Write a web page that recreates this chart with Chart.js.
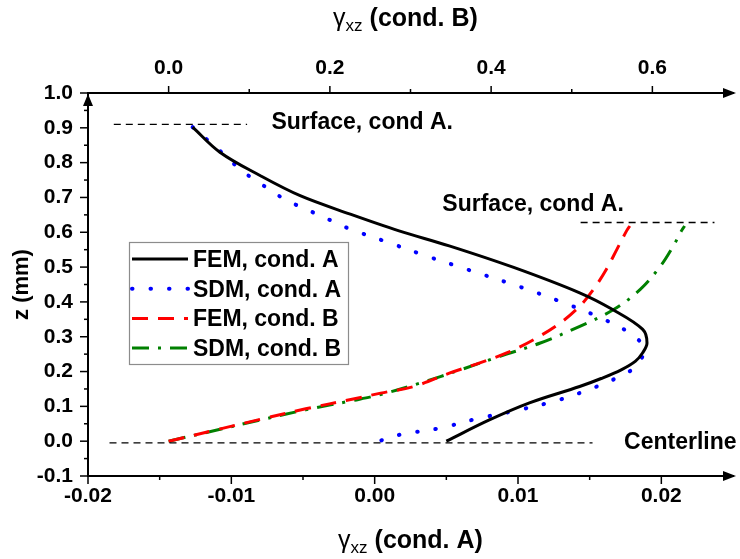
<!DOCTYPE html>
<html>
<head>
<meta charset="utf-8">
<script src="https://cdn.jsdelivr.net/npm/chart.js@4.4.0/dist/chart.umd.min.js"></script>
<style>
    html, body { margin: 0; padding: 0; background: #fff; }
    #wrap { width: 740px; height: 559px; }
</style>
</head>
<body>
<div id="wrap"><canvas id="chart"></canvas></div>
<script>
const FONT = '"Liberation Sans", Arial, sans-serif';

// cond. A (bottom axis)
const femAx = [-0.0127, -0.0108, -0.0080, -0.0052, -0.0017, 0.0017, 0.0052, 0.0097, 0.0143, 0.0166, 0.0187, 0.0190, 0.0187, 0.0182, 0.0172, 0.0158, 0.0143, 0.0108, 0.0080, 0.0050];
const femAz = [0.902, 0.830, 0.763, 0.705, 0.652, 0.604, 0.561, 0.499, 0.426, 0.378, 0.321, 0.282, 0.254, 0.230, 0.205, 0.180, 0.157, 0.110, 0.061, 0.000];
const sdmAx = [-0.0127, -0.0115, -0.0103, -0.0093, -0.0081, -0.0069, -0.0056, -0.0043, -0.0030, -0.0017, 0.0008, 0.0036, 0.0064, 0.0103, 0.0129, 0.0155, 0.0178, 0.0187, 0.0187, 0.0181, 0.0169, 0.0155, 0.0129, 0.0101, 0.0073, 0.0045, 0.0017, 0.0003];
const sdmAz = [0.902, 0.859, 0.816, 0.777, 0.744, 0.710, 0.681, 0.657, 0.633, 0.609, 0.573, 0.532, 0.494, 0.441, 0.402, 0.359, 0.311, 0.275, 0.245, 0.210, 0.182, 0.157, 0.119, 0.090, 0.066, 0.037, 0.018, 0.000];

// cond. B (top axis)
const femBx = [0, 0.060, 0.114, 0.170, 0.229, 0.263, 0.304, 0.349, 0.386, 0.420, 0.453, 0.486, 0.510, 0.527, 0.543, 0.556, 0.568, 0.572];
const femBz = [0, 0.033, 0.063, 0.093, 0.121, 0.138, 0.157, 0.196, 0.225, 0.254, 0.292, 0.340, 0.388, 0.436, 0.494, 0.551, 0.604, 0.618];
const sdmBx = [0, 0.060, 0.114, 0.170, 0.229, 0.263, 0.312, 0.362, 0.411, 0.461, 0.510, 0.552, 0.585, 0.610, 0.626, 0.636, 0.640];
const sdmBz = [0, 0.032, 0.061, 0.090, 0.117, 0.134, 0.167, 0.205, 0.244, 0.282, 0.330, 0.378, 0.436, 0.503, 0.561, 0.604, 0.618];

const seriesLabels = ['FEM, cond. A', 'SDM, cond. A', 'FEM, cond. B', 'SDM, cond. B'];

// tick labels
const ticksA = [-0.02, -0.01, 0.00, 0.01, 0.02];
const ticksB = [0.0, 0.2, 0.4, 0.6];
const ticksZ = [-0.1, 0.0, 0.1, 0.2, 0.3, 0.4, 0.5, 0.6, 0.7, 0.8, 0.9, 1.0];

// dashed guide lines
const surfaceAx = [-0.0182, -0.0089];
const surfaceAz = [0.91, 0.91];
const surfaceBx = [0.511, 0.677];
const surfaceBz = [0.628, 0.628];
const centerX = [-0.0185, 0.0152];
const centerZ = [-0.005, -0.005];

const toPoints = (xs, zs) => xs.map((x, i) => ({ x: x, y: zs[i] }));

function curve(label, xs, zs, axis, color, dash, cap) {
    return {
        label: label,
        data: toPoints(xs, zs),
        xAxisID: axis,
        showLine: true,
        borderColor: color,
        borderWidth: cap === 'round' ? 4 : 3,
        borderDash: dash,
        borderCapStyle: cap || 'butt',
        pointRadius: 0,
        tension: 0.35,
        fill: false
    };
}

function guide(xs, zs, axis) {
    return {
        data: toPoints(xs, zs),
        xAxisID: axis,
        showLine: true,
        borderColor: '#000',
        borderWidth: 1.4,
        borderDash: [7, 5],
        pointRadius: 0,
        tension: 0
    };
}

const overlay = {
    id: 'overlay',
    afterDraw(chart) {
        const ctx = chart.ctx;
        const { left, right, top, bottom } = chart.chartArea;
        const sx = chart.scales.x;
        const sx2 = chart.scales.x2;
        const sy = chart.scales.y;

        ctx.save();
        ctx.strokeStyle = '#000';
        ctx.fillStyle = '#000';
        ctx.lineWidth = 1.5;

        const seg = (x1, y1, x2, y2) => {
            ctx.beginPath();
            ctx.moveTo(x1, y1);
            ctx.lineTo(x2, y2);
            ctx.stroke();
        };

        // tick marks, major and minor
        for (let i = 0; i <= 8; i++) {
            const px = sx.getPixelForValue(-0.02 + i * 0.005);
            seg(px, bottom, px, bottom + (i % 2 === 0 ? 8 : 4));
        }
        for (let i = 1; i <= 7; i++) {
            const px = sx2.getPixelForValue(-0.1 + i * 0.1);
            seg(px, top, px, top - (i % 2 === 1 ? 7 : 4));
        }
        for (let i = 0; i <= 22; i++) {
            const py = sy.getPixelForValue(-0.1 + i * 0.05);
            seg(left, py, left - (i % 2 === 0 ? 8 : 4), py);
        }

        // arrow heads
        const tri = (a, b, c) => {
            ctx.beginPath();
            ctx.moveTo(a[0], a[1]);
            ctx.lineTo(b[0], b[1]);
            ctx.lineTo(c[0], c[1]);
            ctx.closePath();
            ctx.fill();
        };
        tri([right + 3, top], [right - 10, top - 5], [right - 10, top + 5]);
        tri([right + 3, bottom], [right - 10, bottom - 5], [right - 10, bottom + 5]);
        tri([left, top + 1], [left - 5, top + 13], [left + 5, top + 13]);

        // axis titles with gamma_xz
        const gammaTitle = (main, cx, cy) => {
            const big = 'bold 25px ' + FONT;
            const greek = '25px ' + FONT;
            const small = '17px ' + FONT;
            ctx.font = greek;
            const wg = ctx.measureText('γ').width;
            ctx.font = small;
            const ws = ctx.measureText('xz').width;
            ctx.font = big;
            const wm = ctx.measureText(main).width;
            let x = cx - (wg + ws + wm) / 2;
            ctx.textAlign = 'left';
            ctx.textBaseline = 'alphabetic';
            ctx.font = greek;
            ctx.fillText('γ', x, cy + 9);
            x += wg;
            ctx.font = small;
            ctx.fillText('xz', x, cy + 14);
            x += ws;
            ctx.font = big;
            ctx.fillText(main, x, cy + 9);
        };
        const midX = (left + right) / 2;
        gammaTitle(' (cond. B)', midX - 5, 17);
        gammaTitle(' (cond. A)', midX, 539);

        ctx.save();
        ctx.translate(22, (top + bottom) / 2);
        ctx.rotate(-Math.PI / 2);
        ctx.font = 'bold 22px ' + FONT;
        ctx.textAlign = 'center';
        ctx.textBaseline = 'middle';
        ctx.fillText('z (mm)', 0, 0);
        ctx.restore();

        // text notes next to the guide lines
        ctx.font = 'bold 23px ' + FONT;
        ctx.textAlign = 'left';
        ctx.textBaseline = 'alphabetic';
        ctx.fillText('Surface, cond A.', sx.getPixelForValue(-0.0072), sy.getPixelForValue(0.897));
        ctx.fillText('Surface, cond A.', sx2.getPixelForValue(0.3395), sy.getPixelForValue(0.662));
        ctx.fillText('Centerline', sx.getPixelForValue(0.0174), sy.getPixelForValue(-0.023));

        // legend box
        const lx = left + 41;
        const ly = top + 149;
        ctx.fillStyle = '#fff';
        ctx.fillRect(lx, ly, 219, 122);
        ctx.strokeStyle = '#8c8c8c';
        ctx.lineWidth = 1.2;
        ctx.strokeRect(lx + 0.5, ly + 0.5, 219, 122);
        chart.data.datasets.filter(d => d.label).forEach((d, i) => {
            const yy = ly + 17 + i * 29.7;
            ctx.strokeStyle = d.borderColor;
            ctx.lineWidth = d.borderWidth;
            ctx.lineCap = d.borderCapStyle;
            ctx.setLineDash(d.borderDash);
            seg(lx + 3, yy, lx + 59, yy);
            ctx.setLineDash([]);
            ctx.lineCap = 'butt';
            ctx.fillStyle = '#000';
            ctx.font = 'bold 23px ' + FONT;
            ctx.fillText(d.label, lx + 64, yy + 8);
        });

        ctx.restore();
    }
};

const tickFont = { family: FONT, size: 21, weight: 'bold' };
const fixTicks = values => s => { s.ticks = values.map(v => ({ value: v })); };

new Chart(document.getElementById('chart'), {
    type: 'scatter',
    data: {
        datasets: [
            guide(surfaceAx, surfaceAz, 'x'),
            guide(surfaceBx, surfaceBz, 'x2'),
            guide(centerX, centerZ, 'x'),
            curve(seriesLabels[0], femAx, femAz, 'x', '#000000', []),
            curve(seriesLabels[1], sdmAx, sdmAz, 'x', '#0000ff', [0.5, 18], 'round'),
            curve(seriesLabels[2], femBx, femBz, 'x2', '#ff0000', [16, 10]),
            curve(seriesLabels[3], sdmBx, sdmBz, 'x2', '#008000', [17, 9, 3, 9])
        ]
    },
    options: {
        responsive: true,
        maintainAspectRatio: false,
        animation: false,
        layout: { padding: { left: 0, right: 7, top: 0, bottom: 0 } },
        plugins: {
            legend: { display: false },
            tooltip: { enabled: false }
        },
        scales: {
            x: {
                type: 'linear',
                position: 'bottom',
                min: -0.02,
                max: 0.025,
                grid: { display: false, drawTicks: false },
                border: { display: true, color: '#000', width: 2 },
                afterBuildTicks: fixTicks(ticksA),
                ticks: {
                    padding: 8,
                    color: '#000',
                    font: tickFont,
                    maxRotation: 0,
                    autoSkip: false,
                    callback: v => v.toFixed(2)
                },
                afterFit: s => { s.height = 83; }
            },
            x2: {
                type: 'linear',
                position: 'top',
                min: -0.1,
                max: 0.7,
                grid: { display: false, drawTicks: false },
                border: { display: true, color: '#000', width: 2 },
                afterBuildTicks: fixTicks(ticksB),
                ticks: {
                    padding: 12,
                    color: '#000',
                    font: tickFont,
                    maxRotation: 0,
                    autoSkip: false,
                    callback: v => v.toFixed(1)
                },
                afterFit: s => { s.height = 93; }
            },
            y: {
                type: 'linear',
                min: -0.1,
                max: 1.0,
                grid: { display: false, drawTicks: false },
                border: { display: true, color: '#000', width: 2 },
                afterBuildTicks: fixTicks(ticksZ),
                ticks: {
                    padding: 15,
                    color: '#000',
                    font: tickFont,
                    autoSkip: false,
                    callback: v => v.toFixed(1)
                },
                afterFit: s => { s.width = 88; }
            }
        }
    },
    plugins: [overlay]
});
</script>
</body>
</html>
